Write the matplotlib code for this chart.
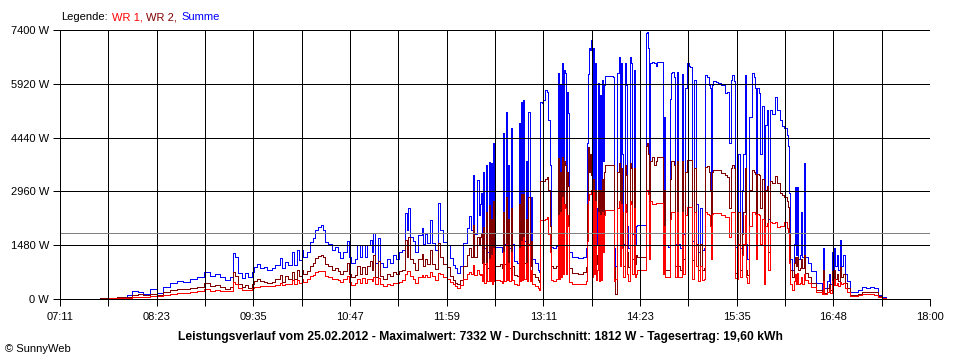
import matplotlib
matplotlib.use('Agg')
import matplotlib.pyplot as plt
from matplotlib.ticker import MultipleLocator

# time in minutes after 07:11
t_min = [
    25.3, 29.8, 35.8, 42.5, 49.9, 53.6, 58.1, 61.8, 67.0, 72.2,
    76.7, 81.9, 87.1, 91.6, 96.8, 102.0, 107.3, 111.7, 115.4, 119.2,
    122.9, 126.6, 128.9, 130.3, 132.6, 135.6, 137.8, 140.0, 143.0, 144.5,
    146.7, 149.0, 151.9, 154.2, 157.9, 160.1, 163.9, 165.4, 167.6, 169.8,
    172.8, 174.3, 176.5, 178.0, 180.2, 181.0, 184.0, 186.2, 188.4, 189.9,
    192.2, 194.4, 195.9, 197.4, 199.6, 202.6, 204.8, 207.1, 208.6, 210.8,
    213.8, 215.3, 216.7, 219.7, 221.2, 223.4, 224.9, 227.2, 228.7, 230.9,
    232.4, 233.1, 234.6, 236.9, 238.3, 240.6, 243.6, 245.8, 248.0, 250.3,
    252.5, 254.7, 257.0, 258.5, 259.2, 260.7, 262.9, 264.4, 266.6, 269.6,
    270.4, 271.9, 273.4, 275.6, 277.1, 279.3, 281.5, 283.0, 285.3, 288.2,
    290.5, 292.7, 294.2, 295.7, 297.9, 300.2, 303.1, 304.6, 306.1, 307.6,
    308.4, 310.6, 312.1, 312.8, 313.6, 314.3, 315.1, 315.8, 317.3, 318.0,
    319.5, 320.3, 321.0, 321.8, 322.5, 323.3, 324.0, 327.7, 329.2, 330.0,
    330.7, 332.2, 332.9, 333.7, 334.4, 335.9, 336.7, 338.2, 340.4, 341.9,
    342.6, 343.4, 344.1, 344.9, 345.6, 347.1, 347.8, 348.6, 350.1, 350.8,
    351.6, 353.8, 356.0, 356.8, 357.5, 359.0, 359.8, 361.2, 362.7, 363.5,
    365.0, 365.7, 367.2, 369.4, 370.9, 371.7, 372.4, 373.2, 373.9, 374.6,
    375.4, 376.1, 376.9, 377.6, 378.4, 379.1, 381.4, 385.8, 389.5, 391.8,
    392.5, 393.3, 394.0, 394.8, 395.5, 396.2, 397.0, 397.7, 398.5, 399.2,
    400.0, 400.7, 401.5, 402.2, 403.0, 403.7, 404.4, 405.2, 405.9, 411.9,
    412.6, 413.4, 414.9, 416.4, 417.1, 417.8, 418.6, 419.3, 420.8, 421.6,
    422.3, 423.1, 424.6, 425.3, 426.0, 427.5, 428.3, 429.0, 429.8, 435.7,
    436.5, 437.2, 438.0, 438.7, 439.4, 440.9, 442.4, 443.9, 444.7, 448.4,
    449.1, 449.9, 450.6, 452.9, 454.3, 455.1, 455.8, 457.3, 458.1, 459.6,
    460.3, 461.8, 463.3, 464.0, 465.5, 467.0, 468.5, 469.2, 470.7, 472.2,
    473.7, 475.2, 476.7, 478.2, 479.7, 480.4, 481.9, 483.4, 484.1, 484.9,
    485.6, 486.4, 488.6, 490.1, 492.3, 495.3, 496.8, 498.3, 499.8, 500.5,
    502.0, 502.8, 504.2, 505.0, 506.5, 508.0, 508.7, 510.2, 511.0, 511.7,
    513.2, 515.4, 516.9, 517.7, 518.4, 519.1, 520.6, 521.4, 522.9, 524.4,
    525.1, 526.6, 527.3, 528.8, 530.3, 532.6, 534.0, 536.3, 537.8, 539.3,
    541.5, 542.2, 543.0, 543.7, 545.2, 546.7, 547.5, 548.2, 548.9, 549.7,
    551.2, 551.9, 552.7, 554.2, 554.9, 557.1, 559.4, 563.1, 567.6, 568.3,
    569.1, 571.3, 572.8, 573.5, 575.0, 575.8, 576.5, 577.2, 578.7, 579.5,
    581.0, 581.7, 583.2, 584.7, 586.2, 588.4, 592.1, 594.4, 597.3, 600.3,
    603.3, 606.3, 609.3, 612.2, 615.2,
]

summe = [
    0, 30, 40, 65, 110, 220, 200, 140, 270, 175,
    320, 430, 495, 460, 540, 600, 750, 630, 700, 600,
    520, 610, 1260, 1160, 710, 570, 710, 600, 750, 890,
    960, 840, 880, 800, 840, 935, 1120, 840, 1030, 935,
    1300, 935, 1350, 1070, 1350, 1150, 1300, 1580, 1670, 1900,
    1990, 2040, 1900, 1580, 1510, 1350, 1440, 1300, 1120, 1300,
    1600, 1150, 980, 1100, 1490, 1150, 1480, 1160, 1480, 1620,
    1300, 1810, 980, 1670, 1000, 890, 1100, 1000, 1210, 1100,
    1300, 1350, 2360, 1900, 2500, 1710, 1600, 1300, 1760, 1950,
    1500, 1800, 1550, 2170, 1550, 1350, 2650, 1900, 1580, 1490,
    1120, 940, 850, 720, 900, 1530, 1950, 2280, 1900, 3410,
    1800, 3270, 2300, 2600, 2910, 1500, 3500, 1400, 3700, 1300,
    3780, 1350, 3730, 1100, 4280, 1400, 1440, 1440, 1300, 4560,
    1500, 5150, 1500, 3700, 1400, 4700, 1500, 1050, 980, 4830,
    1400, 5430, 1500, 5470, 1600, 3800, 1400, 5150, 1500, 2800,
    1100, 980, 800, 750, 5430, 5400, 5470, 5750, 5700, 4920,
    3700, 1440, 1400, 1450, 6210, 1500, 5900, 1600, 6480, 2000,
    6300, 6210, 2000, 5700, 5110, 1300, 1150, 1130, 1160, 1400,
    4280, 6200, 6900, 6850, 7130, 1800, 6900, 2000, 6480, 1500,
    2500, 5930, 1400, 5600, 1500, 6030, 3800, 5900, 6140, 6120,
    1400, 900, 6210, 6670, 2500, 6500, 4000, 1500, 6480, 5900,
    2000, 1400, 6670, 6480, 1800, 6300, 1500, 2000, 2040, 2040,
    7310, 7332, 6900, 3000, 6500, 6530, 6500, 6400, 6530, 6530,
    1800, 5000, 1480, 1440, 5500, 6210, 6250, 6100, 1500, 6250,
    1500, 1400, 6200, 1800, 5800, 6480, 6400, 6390, 1600, 6030,
    2600, 1300, 2500, 1350, 1400, 6160, 6100, 5900, 5800, 2920,
    5900, 6000, 5980, 5930, 5900, 5660, 5700, 4280, 6030, 6160,
    6000, 1440, 1400, 4000, 1400, 3000, 4000, 6160, 1500, 1100,
    5000, 6210, 6100, 5800, 2900, 5800, 5660, 4000, 5300, 1000,
    4800, 5200, 2200, 5200, 5100, 5570, 5200, 4920, 4750, 4700,
    4500, 4200, 2910, 1100, 800, 1500, 3090, 1200, 3090, 1100,
    1200, 2400, 1150, 3730, 1160, 1000, 760, 450, 280, 1400,
    300, 500, 700, 400, 1300, 800, 1400, 900, 1200, 800,
    1620, 900, 1200, 700, 500, 200, 180, 250, 340, 300,
    330, 290, 110, 60, 0,
]

wr2 = [
    0, 20, 30, 45, 65, 120, 130, 100, 150, 110,
    200, 240, 270, 280, 300, 330, 430, 360, 390, 330,
    275, 330, 750, 620, 420, 330, 380, 300, 400, 500,
    560, 500, 480, 440, 480, 540, 660, 480, 620, 560,
    740, 560, 800, 640, 790, 680, 760, 920, 1000, 1120,
    1180, 1210, 1150, 950, 900, 800, 850, 780, 680, 780,
    1000, 700, 600, 660, 900, 700, 880, 700, 900, 1050,
    800, 1200, 600, 1050, 620, 540, 680, 620, 750, 680,
    780, 800, 1620, 1150, 1710, 1100, 1000, 800, 1100, 1250,
    900, 1100, 950, 1350, 950, 820, 1530, 1150, 950, 890,
    640, 520, 450, 400, 520, 900, 1200, 1400, 1150, 2040,
    1150, 1700, 1500, 1700, 1800, 1000, 1990, 950, 2400, 850,
    2590, 850, 2200, 700, 2700, 900, 900, 950, 850, 2400,
    950, 2800, 900, 2200, 850, 2500, 900, 660, 620, 2600,
    880, 2900, 950, 2900, 1000, 2200, 880, 2800, 900, 1600,
    700, 610, 520, 480, 3250, 3250, 3250, 3300, 3350, 3000,
    2000, 900, 850, 900, 3870, 950, 3500, 1000, 3900, 1200,
    3800, 3700, 1300, 3500, 3100, 850, 720, 700, 730, 880,
    2600, 4190, 3500, 4000, 3400, 1150, 3300, 1300, 3000, 950,
    1200, 3000, 880, 3000, 950, 3300, 2000, 3500, 3690, 3690,
    880, 150, 3500, 3740, 1500, 3600, 2400, 900, 3700, 3400,
    1300, 880, 3740, 3600, 1100, 3600, 950, 1200, 1160, 1160,
    4200, 4300, 4000, 1800, 3800, 3900, 3700, 3800, 3920, 3920,
    1000, 3000, 800, 800, 3300, 3800, 3800, 3700, 900, 3800,
    900, 800, 3800, 1100, 3500, 3820, 3820, 3820, 1070, 3600,
    1500, 800, 1500, 800, 850, 3640, 3650, 3500, 3000, 1800,
    3500, 3550, 3550, 3550, 3460, 3400, 3350, 2500, 3600, 3690,
    3600, 710, 700, 2400, 800, 1800, 2400, 3600, 800, 650,
    3000, 3550, 3500, 3450, 1700, 3450, 3400, 2500, 3300, 600,
    3000, 3100, 1300, 3250, 3200, 3370, 3200, 2910, 2850, 2800,
    2700, 2540, 1800, 800, 600, 1000, 1160, 900, 1160, 800,
    850, 1100, 850, 1200, 710, 600, 430, 250, 160, 800,
    160, 300, 420, 250, 760, 520, 800, 550, 700, 500,
    890, 600, 700, 450, 300, 110, 100, 150, 200, 180,
    190, 180, 70, 30, 0,
]

wr1 = [
    0, 10, 15, 25, 40, 60, 65, 60, 85, 70,
    110, 140, 160, 170, 185, 210, 270, 230, 250, 230,
    220, 230, 480, 400, 300, 250, 260, 250, 300, 330,
    340, 350, 370, 360, 370, 390, 430, 380, 420, 410,
    520, 420, 530, 450, 540, 480, 560, 620, 650, 750,
    760, 780, 760, 640, 600, 540, 560, 530, 460, 540,
    620, 460, 390, 430, 560, 450, 570, 450, 560, 560,
    500, 600, 400, 580, 400, 370, 420, 390, 450, 430,
    480, 520, 700, 780, 780, 620, 560, 450, 600, 660,
    600, 650, 600, 750, 620, 530, 720, 680, 600, 560,
    480, 400, 350, 300, 380, 560, 700, 750, 700, 940,
    650, 800, 700, 650, 700, 500, 1000, 450, 980, 500,
    1100, 500, 1200, 400, 1400, 500, 520, 500, 450, 1300,
    500, 1500, 520, 1000, 500, 1300, 520, 400, 380, 1400,
    500, 1600, 520, 1700, 560, 1000, 500, 1500, 500, 800,
    400, 350, 300, 260, 2170, 2170, 2170, 2200, 2250, 1800,
    1300, 520, 500, 550, 2300, 560, 2400, 600, 2810, 700,
    2600, 2500, 700, 2300, 2000, 480, 420, 400, 420, 500,
    1600, 2720, 2900, 2900, 3000, 600, 3000, 700, 2700, 520,
    800, 2400, 500, 2300, 520, 2400, 1300, 2300, 2450, 2450,
    500, 550, 2500, 2700, 900, 2600, 1400, 600, 2600, 2400,
    700, 500, 2700, 2600, 700, 2500, 600, 700, 800, 800,
    3000, 3000, 2900, 1100, 2700, 2600, 2600, 2630, 2630, 2630,
    700, 2000, 600, 600, 2200, 2400, 2400, 2400, 600, 2400,
    600, 600, 2400, 700, 2300, 2540, 2540, 2540, 550, 2400,
    900, 500, 900, 520, 560, 2400, 2350, 2300, 2000, 1100,
    2350, 2360, 2360, 2360, 2300, 2250, 2250, 1700, 2400, 2400,
    2400, 570, 560, 1500, 600, 1200, 1500, 2300, 600, 450,
    2000, 2400, 2380, 2350, 1100, 2350, 2300, 1500, 2200, 400,
    2000, 2100, 800, 2130, 2100, 2130, 1990, 2000, 2000, 2130,
    1950, 1810, 1000, 400, 250, 500, 700, 400, 710, 400,
    450, 600, 400, 700, 520, 450, 340, 200, 130, 500,
    130, 200, 280, 160, 500, 390, 550, 380, 450, 350,
    480, 400, 450, 300, 200, 80, 80, 110, 140, 130,
    140, 120, 50, 20, 0,
]

x_tick_labels = ['07:11', '08:23', '09:35', '10:47', '11:59',
                 '13:11', '14:23', '15:35', '16:48', '18:00']
y_ticks = [0, 1480, 2960, 4440, 5920, 7400]
durchschnitt = 1812
title = ('Leistungsverlauf vom 25.02.2012 - Maximalwert: 7332 W - '
         'Durchschnitt: 1812 W - Tagesertrag: 19,60 kWh')

plt.rcParams['font.family'] = ['Liberation Sans', 'DejaVu Sans']

W, H = 960, 360
PX = 0.72  # one pixel in points at 100 dpi
fig = plt.figure(figsize=(W / 100, H / 100), dpi=100)
ax = fig.add_axes([60 / W, 61 / H, 870 / W, 269 / H])

line_kw = dict(lw=PX, drawstyle='steps-post', antialiased=False)
ax.plot(t_min, summe, color='#0000ff', zorder=2, **line_kw)
ax.plot(t_min, wr2, color='#800000', zorder=3, **line_kw)
ax.plot(t_min, wr1, color='#ff0000', zorder=4, **line_kw)

ax.set_xlim(0, 648)
ax.set_ylim(0, 7400)

# grid drawn above the data like in the original
for gx in range(36, 649, 36):
    ax.axvline(gx, color='black', lw=PX, zorder=5, antialiased=False)
for gy in y_ticks[1:]:
    ax.axhline(gy, color='black', lw=PX, zorder=5, antialiased=False)
ax.axhline(durchschnitt, color='#808080', lw=PX, zorder=6, antialiased=False)

ax.set_xticks(list(range(0, 649, 72)))
ax.set_xticklabels(x_tick_labels)
ax.xaxis.set_minor_locator(MultipleLocator(36))
ax.set_yticks(y_ticks)
ax.set_yticklabels([f'{v} W' for v in y_ticks])
ax.tick_params(axis='both', which='both', direction='out', length=5, width=PX,
               labelsize=8, pad=3, color='black')
ax.tick_params(axis='x', pad=4)
for s in ['top', 'right']:
    ax.spines[s].set_visible(False)
for s in ['left', 'bottom']:
    ax.spines[s].set_linewidth(PX)
    ax.spines[s].set_antialiased(False)
    ax.spines[s].set_zorder(7)

fig.text(480 / W, 1 - 337 / H, title, ha='center', va='center',
         fontsize=8.7, fontweight='bold', color='black')
fig.text(5 / W, 1 - 349 / H, '\u00a9 SunnyWeb', ha='left', va='center',
         fontsize=8, color='black')

fig.canvas.draw()
r = fig.canvas.get_renderer()
parts = [('Legende:', 'black'), ('WR 1,', '#ff0000'),
         ('WR 2,', '#800000'), ('Summe', '#0000ff')]
xpos = 61
for txt, col in parts:
    t = fig.text(xpos / W, 1 - 17 / H, txt, ha='left', va='center',
                 fontsize=8, color=col)
    bb = t.get_window_extent(r)
    xpos = bb.x1 + 4

fig.savefig('out.png', dpi=100)
